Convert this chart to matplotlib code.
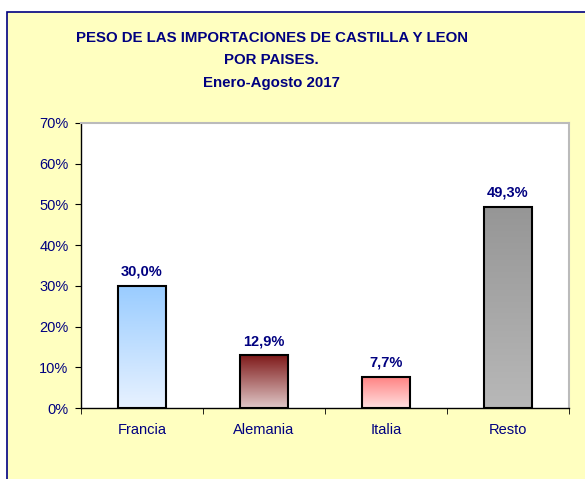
import matplotlib
matplotlib.use("Agg")
import matplotlib.pyplot as plt
import matplotlib.colors as mcolors
from matplotlib.patches import Rectangle
from matplotlib.ticker import FuncFormatter, FixedLocator
import numpy as np

plt.rcParams['font.family'] = ['Liberation Sans', 'DejaVu Sans']

paises = ["Francia", "Alemania", "Italia", "Resto"]
peso = [30.0, 12.9, 7.7, 49.3]
etiquetas = ["30,0%", "12,9%", "7,7%", "49,3%"]
# gradient colours (top, bottom) per bar
grad_top = ["#99CCFF", "#7F1A1A", "#FF8080", "#969696"]
grad_bottom = ["#E8F2FF", "#E0C8C8", "#FFE0E0", "#B8B8B8"]

navy = "#000080"
fondo = "#FFFFC0"

fig = plt.figure(figsize=(5.85, 4.79), dpi=100)
fig.patch.set_facecolor("white")
# yellow chart area with navy border, cut by the image edge
fig.patches.append(Rectangle((7 / 585, -0.05), 1.1, 1 - 12 / 479 + 0.05,
                             transform=fig.transFigure, facecolor=fondo,
                             edgecolor=navy, linewidth=1.2, zorder=-1))

ax = fig.add_axes([81 / 585, 1 - 408 / 479, (569 - 81) / 585, (408 - 123) / 479])
ax.set_zorder(2)
ax.set_facecolor("white")

x = np.arange(len(paises))
width = 0.4
bars = ax.bar(x, peso, width=width, facecolor="none", edgecolor="black",
              linewidth=1.5, zorder=3)

for b, top, bot in zip(bars, grad_top, grad_bottom):
    cmap = mcolors.LinearSegmentedColormap.from_list("g", [bot, top])
    grad = np.linspace(0, 1, 256).reshape(-1, 1)
    x0 = b.get_x()
    im = ax.imshow(grad, cmap=cmap, origin="lower", aspect="auto",
                   extent=(x0, x0 + b.get_width(), 0, b.get_height()), zorder=2)
    im.set_clip_path(b)

for xi, v, lab in zip(x, peso, etiquetas):
    ax.text(xi, v + 1.8, lab, ha="center", va="bottom", color=navy,
            fontsize=10.5, fontweight="bold")

ax.set_xlim(-0.5, 3.5)
ax.set_ylim(0, 70)
ax.set_yticks(np.arange(0, 71, 10))
ax.yaxis.set_major_formatter(FuncFormatter(lambda v, p: f"{v:.0f}%"))
ax.set_xticks(x)
ax.set_xticklabels(paises)
ax.xaxis.set_minor_locator(FixedLocator([-0.5, 0.5, 1.5, 2.5, 3.5]))
ax.tick_params(axis="x", which="major", length=0, pad=11, labelcolor=navy, labelsize=10.5)
ax.tick_params(axis="x", which="minor", length=4, direction="out", color="black")
ax.tick_params(axis="y", length=4, direction="out", color="black", labelcolor=navy,
               labelsize=10.5, pad=5)

for s in ["left", "bottom"]:
    ax.spines[s].set_color("black")
    ax.spines[s].set_linewidth(1.0)
for s in ["top", "right"]:
    ax.spines[s].set_color("#BBBBBB")
    ax.spines[s].set_linewidth(1.5)

fig.text(0.5 * (75 + 468) / 585, 1 - 31 / 479,
         "PESO DE LAS IMPORTACIONES DE CASTILLA Y LEON\nPOR PAISES.\nEnero-Agosto 2017",
         ha="center", va="top", color=navy, fontsize=10.8, fontweight="bold",
         linespacing=1.75)

fig.savefig("out.png", dpi=100)
